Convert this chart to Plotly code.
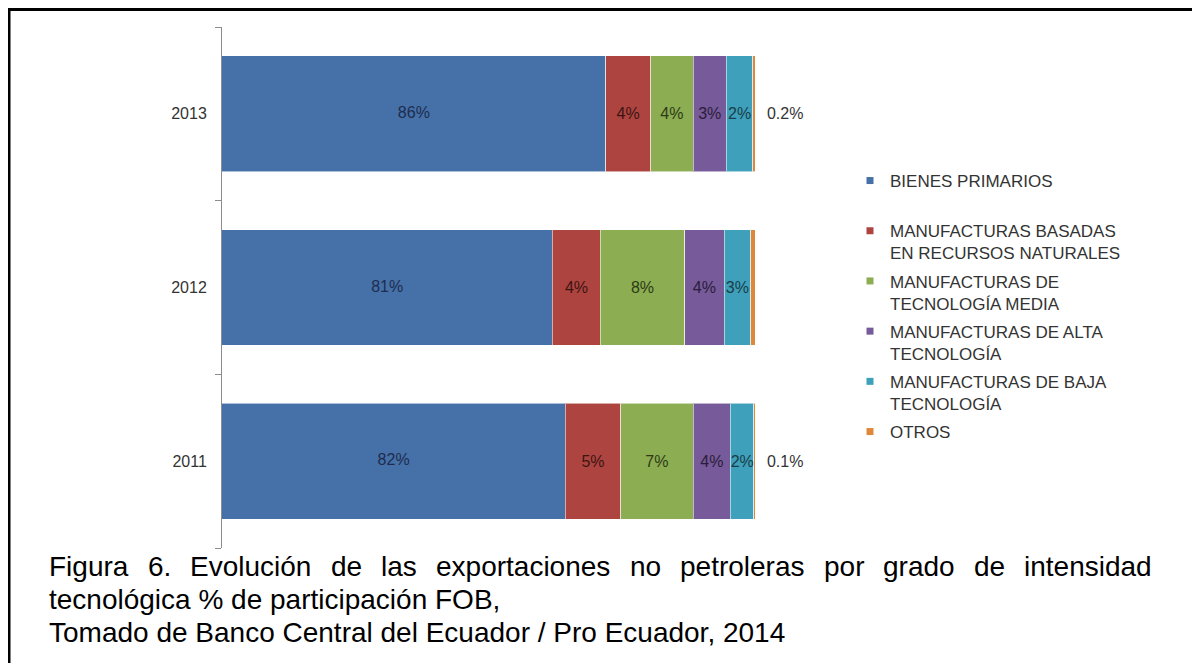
import plotly.graph_objects as go

# data (% of FOB)
years = ["2011", "2012", "2013"]

bienes_primarios = [82.2, 81.0, 86.0]
manuf_recursos = [5.2, 4.5, 4.2]
manuf_media = [6.8, 7.9, 4.0]
manuf_alta = [3.5, 3.7, 3.1]
manuf_baja = [2.2, 2.5, 2.5]
otros = [0.1, 0.4, 0.2]

labels_bienes = ["82%", "81%", "86%"]
labels_recursos = ["5%", "4%", "4%"]
labels_media = ["7%", "8%", "4%"]
labels_alta = ["4%", "4%", "3%"]
labels_baja = ["2%", "3%", "2%"]
labels_otros = ["0.1%", "0.4%", "0.2%"]

series_names = [
    "BIENES PRIMARIOS<br>\u00a0",
    "MANUFACTURAS BASADAS<br>EN RECURSOS NATURALES",
    "MANUFACTURAS DE<br>TECNOLOGÍA MEDIA",
    "MANUFACTURAS DE ALTA<br>TECNOLOGÍA",
    "MANUFACTURAS DE BAJA<br>TECNOLOGÍA",
    "OTROS",
]

X_MIN, X_MAX = 50, 100

FONT = "Liberation Sans, Arial, sans-serif"
COLORS = ["#4571A8", "#AE4440", "#8CAD52", "#775A99", "#3FA0BB", "#E0883A"]
TEXT_COLORS = ["#1E2C4E", "#3C1513", "#2C3B16", "#2A1D3B", "#173E49", "#333333"]

# the page body has an 8px margin, so the figure is drawn 8px in from the window edge
OFF = 8
W, H = 1200 - OFF, 663 - OFF
# plot area in window pixels
PL, PR, PT, PB = 222 - OFF, 755 - OFF, 27 - OFF, 548 - OFF


def px(x):
    return (x - OFF - PL) / (PR - PL)


def py(y):
    return (PB - (y - OFF)) / (PB - PT)


values = [bienes_primarios, manuf_recursos, manuf_media, manuf_alta, manuf_baja, otros]
labels = [labels_bienes, labels_recursos, labels_media, labels_alta, labels_baja, labels_otros]

fig = go.Figure()
for i, (vals, txt) in enumerate(zip(values, labels)):
    last = i == len(values) - 1
    fig.add_bar(
        y=years,
        x=vals,
        orientation="h",
        marker=dict(color=COLORS[i], line=dict(color="rgba(255,255,255,0.55)", width=1)),
        text=None if i == 0 else txt,
        texttemplate=None if i == 0 else ("\u00a0\u00a0%{text}" if last else "%{text}"),
        textposition="outside" if last else ("none" if i == 0 else "inside"),
        insidetextanchor="middle",
        constraintext="none",
        textangle=0,
        textfont=dict(family=FONT, size=16, color=TEXT_COLORS[i]),
        cliponaxis=not last,
        showlegend=False,
        hoverinfo="x+y",
    )

# labels of the first segment, centred on its visible part
fig.add_scatter(
    y=years,
    x=[(X_MIN + v) / 2 for v in bienes_primarios],
    text=labels_bienes,
    mode="text",
    textfont=dict(family=FONT, size=16, color=TEXT_COLORS[0]),
    showlegend=False,
    hoverinfo="skip",
)

# legend entries with small square keys
for i, name in enumerate(series_names):
    fig.add_scatter(
        x=[None],
        y=[None],
        mode="markers",
        name=name,
        legendgroup=str(i),
        marker=dict(symbol="square", size=7, color=COLORS[i]),
    )

# caption, first line justified
caption_words = ["Figura", "6.", "Evolución", "de", "las", "exportaciones", "no",
                 "petroleras", "por", "grado", "de", "intensidad"]
caption_starts = [47, 145.6, 188.2, 328.8, 379.1, 434.1, 627.6, 677.9, 821.6, 881.3, 972.1, 1022.4]
annotations = []
for w, xs in zip(caption_words, caption_starts):
    annotations.append(dict(
        x=px(xs), y=py(566), xref="paper", yref="paper", text=w, showarrow=False,
        xanchor="left", yanchor="middle", font=dict(family=FONT, size=28, color="#000"),
    ))
for line, yy in [("tecnológica % de participación FOB,", 599),
                 ("Tomado de Banco Central del Ecuador / Pro Ecuador, 2014", 632)]:
    annotations.append(dict(
        x=px(47), y=py(yy), xref="paper", yref="paper", text=line, showarrow=False,
        xanchor="left", yanchor="middle", font=dict(family=FONT, size=28, color="#000"),
    ))

fig.update_layout(
    width=W,
    height=H,
    barmode="stack",
    bargap=0.333,
    paper_bgcolor="white",
    plot_bgcolor="white",
    margin=dict(l=PL, r=W - PR, t=PT, b=H - PB, autoexpand=False),
    font=dict(family=FONT, color="#333"),
    xaxis=dict(range=[X_MIN, X_MAX], visible=False, fixedrange=True),
    yaxis=dict(
        type="category",
        categoryorder="array",
        categoryarray=years,
        showline=True,
        linecolor="#8c8c8c",
        linewidth=1,
        ticks="outside",
        tickson="boundaries",
        ticklen=6,
        tickcolor="#8c8c8c",
        ticklabelstandoff=11,
        showgrid=False,
        tickfont=dict(family=FONT, size=16, color="#333"),
    ),
    legend=dict(
        xref="container",
        yref="container",
        x=(850 - OFF) / W,
        y=1 - (163 - OFF) / H,
        xanchor="left",
        yanchor="top",
        valign="top",
        tracegroupgap=3,
        itemclick=False,
        font=dict(family=FONT, size=17, color="#333"),
        bgcolor="rgba(0,0,0,0)",
    ),
    annotations=annotations,
    shapes=[
        dict(type="line", xref="paper", yref="paper", x0=px(9), x1=px(9), y0=py(9), y1=py(663),
             line=dict(color="black", width=3)),
        dict(type="line", xref="paper", yref="paper", x0=px(7.5), x1=px(1200), y0=py(9.5), y1=py(9.5),
             line=dict(color="black", width=3)),
    ],
    showlegend=True,
)

fig.write_html("out.html")
